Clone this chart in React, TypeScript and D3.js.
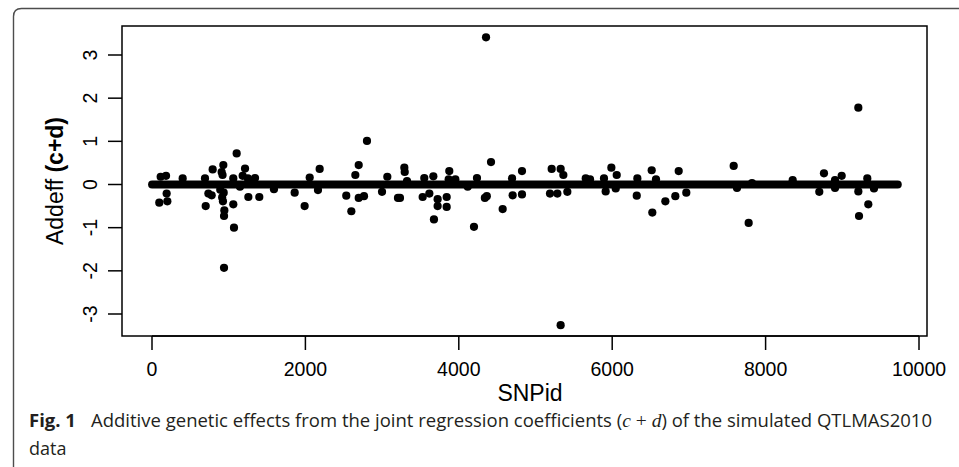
import React from "react";
import * as d3 from "d3";

// SNP ids with non-zero additive effects and their estimated (c+d) values
const snpIds = [
  95, 113, 183, 191, 200, 400, 691, 700, 735, 778, 791, 890, 908, 915, 920, 925, 930, 935, 939, 939, 943,
  1060, 1060, 1069, 1104, 1147, 1182, 1213, 1250, 1256, 1280, 1343, 1399, 1590, 1860, 1990, 2056, 2164,
  2186, 2533, 2599, 2651, 2695, 2695, 2764, 2803, 2999, 3068, 3207, 3233, 3290, 3295, 3325, 3529, 3550,
  3616, 3668, 3676, 3724, 3724, 3842, 3842, 3868, 3876, 3955, 4116, 4198, 4237, 4340, 4355, 4365, 4420,
  4572, 4694, 4702, 4824, 4824, 5189, 5211, 5285, 5328, 5328, 5363, 5415, 5655, 5711, 5893, 5915, 5989,
  6046, 6059, 6320, 6328, 6515, 6523, 6571, 6693, 6823, 6867, 6966, 7584, 7627, 7779, 7823, 8353, 8700,
  8761, 8905, 8905, 8992, 9209, 9209, 9218, 9326, 9339, 9413,
];
const effects = [
  -0.42, 0.18, 0.2, -0.21, -0.39, 0.14, 0.14, -0.5, -0.21, -0.25, 0.35, -0.12, 0.29, -0.3, 0.22, -0.39, 0.45, -0.19, -0.73, -1.93, -0.6,
  0.14, -0.46, -1.0, 0.72, -0.05, 0.2, 0.37, 0.14, -0.29, 0.05, 0.15, -0.29, -0.11, -0.19, -0.5, 0.16, -0.13,
  0.36, -0.26, -0.62, 0.22, 0.45, -0.31, -0.27, 1.01, -0.17, 0.18, -0.31, -0.31, 0.39, 0.29, 0.08, -0.29, 0.15,
  -0.21, 0.19, -0.81, -0.34, -0.5, -0.29, -0.52, 0.12, 0.31, 0.12, -0.05, -0.98, 0.15, -0.31, 3.41, -0.27, 0.52,
  -0.57, 0.14, -0.25, 0.31, -0.23, -0.21, 0.36, -0.21, 0.36, -3.26, 0.22, -0.17, 0.14, 0.12, 0.14, -0.16, 0.39,
  -0.09, 0.22, -0.26, 0.14, 0.33, -0.65, 0.12, -0.39, -0.27, 0.31, -0.19, 0.43, -0.08, -0.89, 0.03, 0.1, -0.17,
  0.26, -0.08, 0.1, 0.2, 1.78, -0.16, -0.73, 0.14, -0.46, -0.09,
];
// all other SNPs (first..last) have an effect of zero
const zeroSnpRange = [1, 9723];
const xTicks = [0, 2000, 4000, 6000, 8000, 10000];
const yTicks = [-3, -2, -1, 0, 1, 2, 3];

const W = 959;
const H = 467;
const box = { left: 122, right: 927, top: 26, bottom: 336 };

export default function App() {
  const x = d3.scaleLinear().domain([0, 10000]).range([152, 919]);
  const y = d3.scaleLinear().domain([-3, 3]).range([314, 55]);
  const line = d3
    .line<number>()
    .x((d) => x(d))
    .y(() => y(0));
  const axisFont = "Liberation Sans, Arial, Helvetica, sans-serif";
  const tick = 14;

  return (
    <svg
      width={W}
      height={H}
      style={{ position: "absolute", left: 0, top: 0, background: "#fff" }}
    >
      {/* outer figure frame */}
      <path
        d="M13.5,467 L13.5,16.5 Q13.5,8.5 21.5,8.5 L959,8.5"
        fill="none"
        stroke="#4d4d4d"
        strokeWidth={1.4}
      />
      {/* plot box */}
      <rect
        x={box.left}
        y={box.top}
        width={box.right - box.left}
        height={box.bottom - box.top}
        fill="none"
        stroke="#000"
        strokeWidth={1.5}
      />
      {/* x axis */}
      <g fontFamily={axisFont} fontSize={19.5} fill="#000">
        <line
          x1={x(xTicks[0])}
          x2={x(xTicks[xTicks.length - 1])}
          y1={box.bottom}
          y2={box.bottom}
          stroke="#000"
          strokeWidth={1.5}
        />
        {xTicks.map((t) => (
          <g key={t}>
            <line x1={x(t)} x2={x(t)} y1={box.bottom} y2={box.bottom + tick} stroke="#000" strokeWidth={1.5} />
            <text x={x(t)} y={376} textAnchor="middle">
              {t}
            </text>
          </g>
        ))}
        {yTicks.map((t) => (
          <g key={t}>
            <line x1={box.left - tick} x2={box.left} y1={y(t)} y2={y(t)} stroke="#000" strokeWidth={1.5} />
            <text
              transform={`translate(96.5,${y(t)}) rotate(-90)`}
              textAnchor="middle"
            >
              {t}
            </text>
          </g>
        ))}
      </g>
      {/* axis titles */}
      <text x={530} y={401} textAnchor="middle" fontFamily={axisFont} fontSize={23}>
        SNPid
      </text>
      <text
        transform={`translate(63,${(box.top + box.bottom) / 2}) rotate(-90)`}
        textAnchor="middle"
        fontFamily={axisFont}
        fontSize={23}
      >
        Addeff <tspan fontWeight="bold">(c+d)</tspan>
      </text>
      {/* zero-effect SNPs forming the thick band */}
      <path
        d={line(zeroSnpRange) || ""}
        stroke="#000"
        strokeWidth={8}
        strokeLinecap="round"
        fill="none"
      />
      {/* non-zero effects */}
      {snpIds.map((s, i) => (
        <circle key={i} cx={x(s)} cy={y(effects[i])} r={4.1} fill="#000" />
      ))}
      {/* caption */}
      <g fontFamily="'Open Sans', 'Noto Sans', sans-serif" fontSize={18} fill="#231f20">
        <text x={29} y={426.5} fontWeight="bold" fontSize={18.5}>
          Fig. 1
        </text>
        <text x={91} y={426.5} textLength={841} lengthAdjust="spacingAndGlyphs">
          Additive genetic effects from the joint regression coefficients (
          <tspan fontFamily="'Liberation Serif', serif" fontStyle="italic" fontSize={19}>c</tspan>
          <tspan fontFamily="'Liberation Serif', serif" fontSize={19}> + </tspan>
          <tspan fontFamily="'Liberation Serif', serif" fontStyle="italic" fontSize={19}>d</tspan>) of the simulated QTLMAS2010
        </text>
        <text x={29} y={455}>
          data
        </text>
      </g>
    </svg>
  );
}
